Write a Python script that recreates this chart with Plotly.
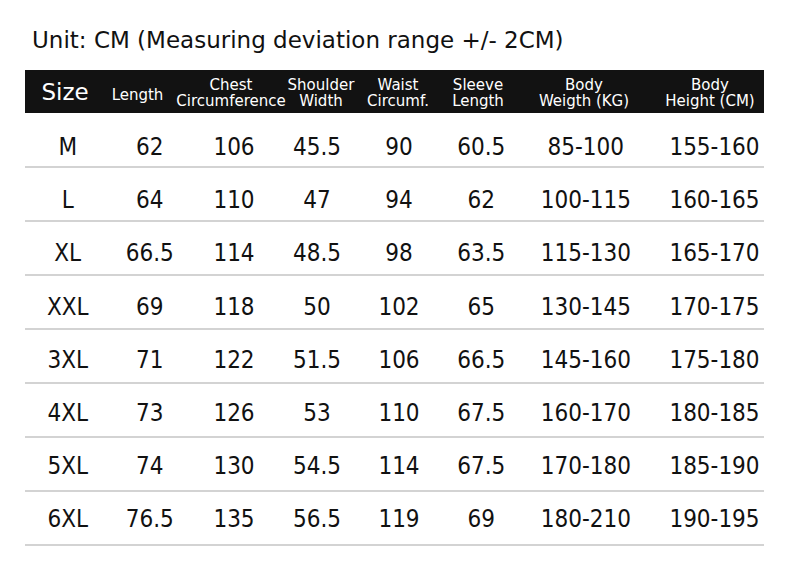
import plotly.graph_objects as go

# ---- data ----
sizes = ["M", "L", "XL", "XXL", "3XL", "4XL", "5XL", "6XL"]
length = [62, 64, 66.5, 69, 71, 73, 74, 76.5]
chest = [106, 110, 114, 118, 122, 126, 130, 135]
shoulder = [45.5, 47, 48.5, 50, 51.5, 53, 54.5, 56.5]
waist = [90, 94, 98, 102, 106, 110, 114, 119]
sleeve = [60.5, 62, 63.5, 65, 66.5, 67.5, 67.5, 69]
body_weight = ["85-100", "100-115", "115-130", "130-145", "145-160", "160-170", "170-180", "180-210"]
body_height = ["155-160", "160-165", "165-170", "170-175", "175-180", "180-185", "185-190", "190-195"]
headers = ["Size", "Length", "Chest<br>Circumference", "Shoulder<br>Width", "Waist<br>Circumf.",
           "Sleeve<br>Length", "Body<br>Weigth (KG)", "Body<br>Height (CM)"]
title_text = "Unit: CM (Measuring deviation range +/- 2CM)"

# ---- layout constants (pixels) ----
W, H = 790, 566
TBL_L, TBL_R = 25, 764
HDR_TOP, HDR_BOT = 70, 113
ROW_H = 54
TEXT_TOP, TEXT_PITCH = 149, 53.2
VAL_X = [67.7, 149.7, 234, 317, 399, 481.3, 585.8, 714.5]
HDR_X = [65, 137.5, 231, 321, 398, 478, 584, 710]
FONT = "DejaVu Sans"
VAL_FONT = "DejaVu Sans Condensed, DejaVu Sans"

def fmt(v):
    return str(v)

columns = [sizes, length, chest, shoulder, waist, sleeve, body_weight, body_height]
n_rows = len(sizes)

fig = go.Figure()

# header background
fig.add_shape(type="rect", x0=TBL_L, x1=TBL_R, y0=HDR_TOP, y1=HDR_BOT,
              fillcolor="#121212", line=dict(width=0), layer="below")

# row separator lines
for i in range(n_rows):
    y = HDR_BOT + ROW_H * (i + 1)
    fig.add_shape(type="line", x0=TBL_L, x1=TBL_R, y0=y, y1=y,
                  line=dict(color="#c4c4c4", width=1.5))

# header texts
fig.add_trace(go.Scatter(
    x=[HDR_X[0]], y=[94.5], mode="text", text=[headers[0]],
    textfont=dict(family=FONT, size=23, color="white"), hoverinfo="skip"))
single_x, single_t, l1_x, l1_t, l2_t = [], [], [], [], []
for hx, h in zip(HDR_X[1:], headers[1:]):
    parts = h.split("<br>")
    if len(parts) == 1:
        single_x.append(hx)
        single_t.append(parts[0])
    else:
        l1_x.append(hx)
        l1_t.append(parts[0])
        l2_t.append(parts[1])
hfont = dict(family=FONT, size=15, color="white")
fig.add_trace(go.Scatter(x=single_x, y=[96] * len(single_x), mode="text", text=single_t,
                         textfont=hfont, hoverinfo="skip"))
fig.add_trace(go.Scatter(x=l1_x, y=[86] * len(l1_x), mode="text", text=l1_t,
                         textfont=hfont, hoverinfo="skip"))
fig.add_trace(go.Scatter(x=l1_x, y=[102.5] * len(l1_x), mode="text", text=l2_t,
                         textfont=hfont, hoverinfo="skip"))

# cell values
for c, col in enumerate(columns):
    ys = [TEXT_TOP + TEXT_PITCH * i for i in range(n_rows)]
    fig.add_trace(go.Scatter(
        x=[VAL_X[c]] * n_rows, y=ys, mode="text", text=[fmt(v) for v in col],
        textfont=dict(family=VAL_FONT, size=24, color="#111111"), hoverinfo="skip"))

fig.add_annotation(x=30, y=40, xref="x", yref="y", text=title_text, showarrow=False,
                   xanchor="left", yanchor="middle",
                   font=dict(family=FONT, size=23, color="#111111"))

fig.update_layout(
    width=W, height=H, margin=dict(l=0, r=0, t=0, b=0),
    paper_bgcolor="white", plot_bgcolor="white", showlegend=False,
    xaxis=dict(range=[0, W], visible=False, fixedrange=True),
    yaxis=dict(range=[H, 0], visible=False, fixedrange=True),
)

fig.write_html("out.html", config={"displayModeBar": False},
               post_script="document.body.style.margin='0';")
